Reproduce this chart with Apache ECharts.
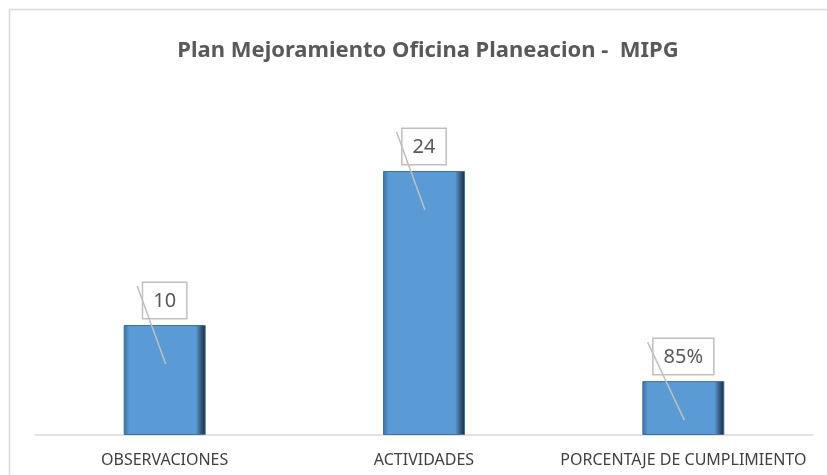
<!DOCTYPE html>
<html>
<head>
<meta charset="utf-8">
<script src="https://cdn.jsdelivr.net/npm/echarts@6/dist/echarts.min.js"></script>
<style>
    html, body { margin: 0; padding: 0; background: #fff; }
    #chart { width: 827px; height: 475px; }
</style>
</head>
<body>
<div id="chart"></div>
<script>
    // datos del grafico
    var categorias = ['OBSERVACIONES', 'ACTIVIDADES', 'PORCENTAJE DE CUMPLIMIENTO'];
    var valores = [10, 24, 4.9];
    var etiquetas = ['10', '24', '85%'];

    var chart = echarts.init(document.getElementById('chart'));

    var labelFont = '20px "Noto Sans"';
    var ctx = document.createElement('canvas').getContext('2d');
    ctx.font = labelFont;
    function anchoEtiqueta(t) {
        return ctx.measureText(t).width + 20;
    }

    var option = {
        animation: false,
        title: {
            text: 'Plan Mejoramiento Oficina Planeacion -  MIPG',
            left: 423,
            textAlign: 'center',
            top: 35,
            textStyle: { fontFamily: 'Noto Sans', fontSize: 22, fontWeight: 'bold', color: '#595959' }
        },
        graphic: [{
            type: 'rect',
            shape: { x: 9.5, y: 9.5, width: 900, height: 600 },
            style: { fill: 'none', stroke: '#d9d9d9', lineWidth: 1.5 },
            silent: true
        }],
        grid: { left: 35, right: 14, top: 105, bottom: 40 },
        xAxis: {
            type: 'category',
            data: categorias,
            axisLine: { lineStyle: { color: '#d9d9d9', width: 1.5 } },
            axisTick: { show: false },
            axisLabel: { interval: 0, fontFamily: 'Noto Sans', fontSize: 16, color: '#404040', margin: 17 }
        },
        yAxis: { type: 'value', min: 0, max: 30, show: false, splitLine: { show: false } },
        series: [{
            type: 'bar',
            data: valores,
            barWidth: 82,
            itemStyle: {
                color: new echarts.graphic.LinearGradient(0, 0, 1, 0, [
                    { offset: 0, color: '#3c6d9e' },
                    { offset: 0.07, color: '#5b9bd5' },
                    { offset: 0.88, color: '#5b9bd5' },
                    { offset: 0.93, color: '#3e6690' },
                    { offset: 1, color: '#14283c' }
                ]),
                borderColor: '#41719c',
                borderWidth: 1
            },
            label: {
                show: true,
                position: 'top',
                distance: 7,
                formatter: function (p) { return etiquetas[p.dataIndex]; },
                fontFamily: 'Noto Sans',
                fontSize: 20,
                color: '#595959',
                backgroundColor: '#fff',
                borderColor: '#bfbfbf',
                borderWidth: 1.5,
                padding: [8, 10, 7, 10]
            }
        }, {
            type: 'custom',
            z: 10,
            data: valores.map(function (v, i) { return [i, v]; }),
            renderItem: function (params, api) {
                var p = api.coord([api.value(0), api.value(1)]);
                var w = anchoEtiqueta(etiquetas[params.dataIndex]);
                return {
                    type: 'line',
                    shape: { x1: p[0] - w / 2 - 6, y1: p[1] - 39, x2: p[0] + 1, y2: p[1] + 39 },
                    style: { stroke: '#bfbfbf', lineWidth: 1.5 }
                };
            }
        }]
    };
    chart.setOption(option);
</script>
</body>
</html>
